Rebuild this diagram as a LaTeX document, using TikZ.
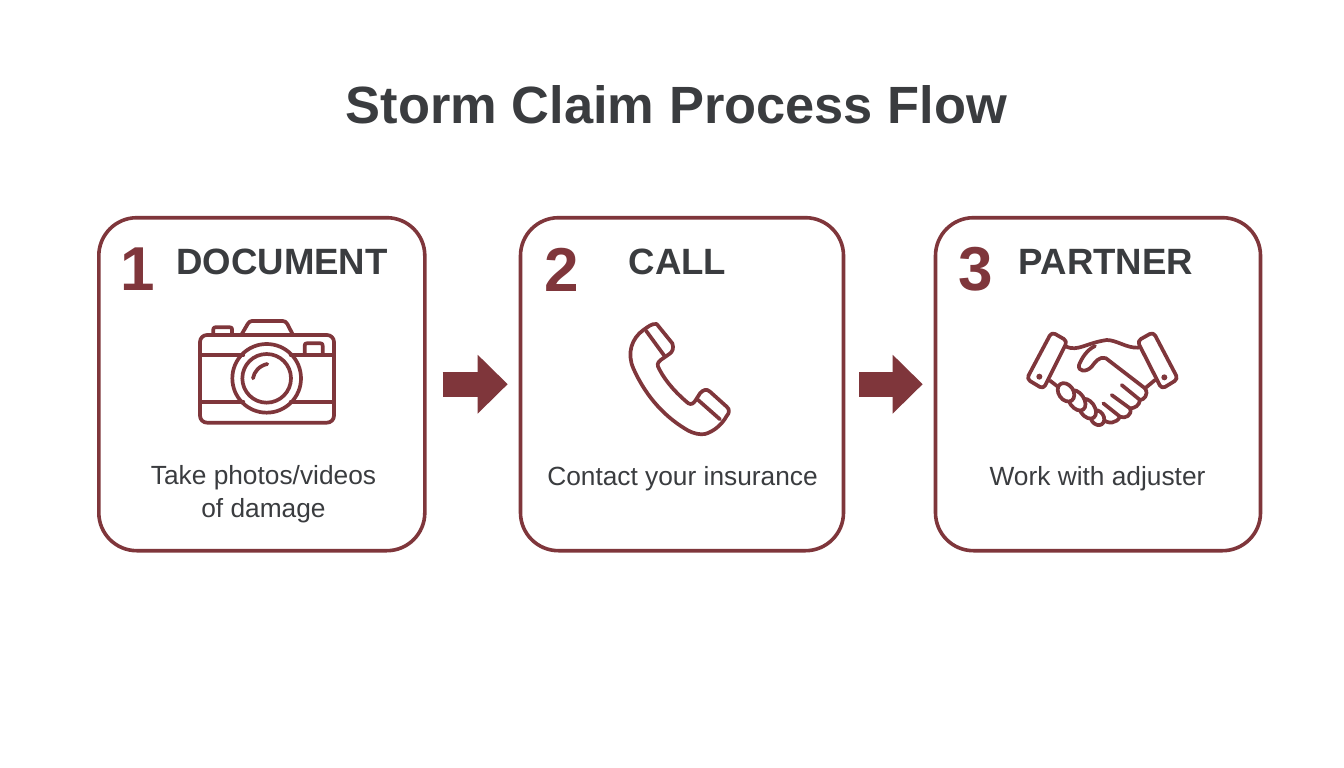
\documentclass[tikz,border=0pt]{standalone}
\usepackage{fontspec}
\setmainfont{Liberation Sans}
\usetikzlibrary{arrows.meta}
\definecolor{wine}{HTML}{7F363B}
\definecolor{ink}{HTML}{3A3C3F}
\tikzset{
  x=1pt,y=-1pt,
  card/.style={draw=wine,line width=3.6pt,rounded corners=38pt,fill=white,minimum height=333pt,inner sep=0pt},
  titletext/.style={text=ink,font=\fontsize{52.4}{60}\selectfont\bfseries,inner sep=0pt},
  numtext/.style={text=wine,font=\fontsize{62}{70}\selectfont\bfseries,inner sep=0pt},
  headtext/.style={text=ink,font=\fontsize{36.6}{42}\selectfont\bfseries,inner sep=0pt},
  bodytext/.style={text=ink,font=\fontsize{26.3}{33}\selectfont,inner sep=0pt,align=center},
  blockarrow/.style={draw=wine,line width=25pt,-{Triangle[length=30pt,width=57pt]}},
  icon/.style={draw=wine,line width=3.7pt,line cap=round,line join=round},
  finger/.style={icon,fill=white},
  zoomed/.style={x=0.33333pt,y=-0.33333pt}
}
\begin{document}
\begin{tikzpicture}
\useasboundingbox (0,0) rectangle (1344,768);
\fill[white] (0,0) rectangle (1344,768);
\node[titletext] (title) at (676.5,105) {Storm Claim Process Flow};
\node[card,minimum width=326pt] (box1) at (261.8,384.2) {};
\node[card,minimum width=323pt] (box2) at (682,384.2) {};
\node[card,minimum width=325pt] (box3) at (1098,384.2) {};
\draw[blockarrow,shorten <=16pt,shorten >=11pt] (box1.east) -- (box2.west);
\draw[blockarrow,shorten <=14pt,shorten >=11pt] (box2.east) -- (box3.west);
\node[numtext] (n1) at (137.5,269.5) {1};
\node[numtext] (n2) at (561.5,269.5) {2};
\node[numtext] (n3) at (975.5,269.5) {3};
\node[headtext] (h1) at (282,262) {DOCUMENT};
\node[headtext] (h2) at (677.5,262) {CALL};
\node[headtext] (h3) at (1106,262) {PARTNER};
\node[bodytext] (t1) at (263.5,494) {Take photos/videos\\of damage};
\node[bodytext] (t2) at (682.5,479) {Contact your insurance};
\node[bodytext] (t3) at (1097.5,479) {Work with adjuster};
% camera
\begin{scope}[shift={(180,300)},zoomed]
\draw[icon,rounded corners=7pt] (60,105) rectangle (462,368);
\draw[icon] (185,103) -- (203,72) .. controls (207,66) and (210,63) .. (216,63) -- (308,63) .. controls (315,63) and (318,66) .. (322,72) -- (338,103);
\draw[icon] (100,103) -- (100,88) .. controls (100,84) and (102,82) .. (106,82) -- (150,82) .. controls (154,82) and (156,84) .. (156,88) -- (156,103);
\draw[icon] (374,165) -- (374,137) .. controls (374,132) and (376,130) .. (380,130) -- (422,130) .. controls (426,130) and (428,132) .. (428,137) -- (428,165);
\draw[icon] (60,165) -- (190,165);
\draw[icon] (332,165) -- (462,165);
\draw[icon] (60,305) -- (190,305);
\draw[icon] (332,305) -- (462,305);
\draw[icon] (260,235) circle[radius=103];
\draw[icon] (260,235) circle[radius=73];
\draw[icon] (219,235) .. controls (222,215) and (238,197) .. (262,192);
\end{scope}
% phone
\begin{scope}[shift={(610,310)},zoomed]
\draw[icon] (100,60) .. controls (115,50) and (125,40) .. (140,42) -- (187,100) .. controls (192,115) and (188,125) .. (178,132) -- (152,150) .. controls (142,158) and (140,165) .. (148,178) .. controls (170,220) and (205,255) .. (235,280) .. controls (245,285) and (250,280) .. (256,272) -- (270,250) .. controls (278,240) and (290,235) .. (300,245) -- (350,290) .. controls (360,298) and (358,310) .. (350,318) .. controls (335,345) and (310,365) .. (285,372) .. controls (270,375) and (250,370) .. (235,362) .. controls (170,325) and (110,265) .. (70,175) .. controls (50,130) and (65,85) .. (100,60) -- cycle;
\draw[icon] (108,62) -- (165,140);
\draw[icon] (262,268) -- (330,328);
\end{scope}
% handshake
\begin{scope}[shift={(1010,320)},zoomed]
\draw[icon,rounded corners=4pt] (125,36) -- (172,63) -- (100,207) -- (50,177) -- cycle;
\draw[icon,rounded corners=4pt] (430,36) -- (382,63) -- (455,207) -- (504,177) -- cycle;
\fill[wine] (88,170) circle[radius=9];
\fill[wine] (463,172) circle[radius=9];
\draw[icon] (168,80) .. controls (205,95) and (225,70) .. (290,60) .. controls (320,60) and (350,85) .. (385,83);
\draw[icon] (255,78) .. controls (230,90) and (215,115) .. (207,135) .. controls (203,155) and (228,158) .. (245,140) .. controls (255,128) and (265,108) .. (288,115) -- (405,205) .. controls (418,225) and (400,240) .. (390,240) -- (335,195);
\draw[icon] (390,240) .. controls (388,258) and (372,265) .. (360,265) -- (305,225);
\draw[icon] (360,265) .. controls (368,285) and (345,298) .. (330,290) -- (280,250);
\draw[icon] (330,290) .. controls (320,310) and (295,315) .. (275,295);
\draw[icon] (435,180) -- (405,205);
\draw[icon] (120,182) -- (150,205);
\draw[finger,shift={(262,293)},rotate=-55] (0,0) ellipse[x radius=24,y radius=19];
\draw[finger,shift={(232,266)},rotate=-55] (0,0) ellipse[x radius=33,y radius=22];
\draw[finger,shift={(200,241)},rotate=-55] (0,0) ellipse[x radius=34,y radius=22];
\draw[finger,shift={(168,217)},rotate=-55] (0,0) ellipse[x radius=30,y radius=22];
\end{scope}
\end{tikzpicture}
\end{document}
